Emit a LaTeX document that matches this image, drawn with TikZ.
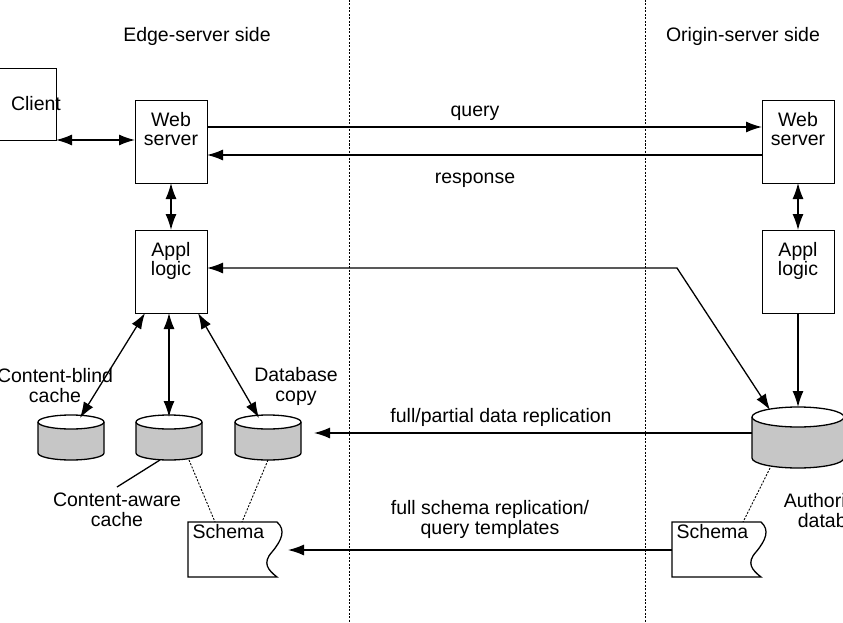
\documentclass[tikz,border=0pt]{standalone}
\usepackage{fontspec}
\setmainfont{Liberation Sans}
\usetikzlibrary{arrows.meta}
\begin{document}
\begin{tikzpicture}[x=1pt,y=-1pt,line width=1.3pt,
  box/.style={draw,minimum width=72pt,minimum height=83pt,align=center,anchor=north west},
  lbl/.style={align=center},
  arr/.style={-{Latex[length=16pt,width=11pt]}},
  darr/.style={{Latex[length=16pt,width=11pt]}-{Latex[length=16pt,width=11pt]}},
  dotl/.style={line width=0.9pt,dash pattern=on 2pt off 1.5pt},
  every node/.style={font=\fontsize{19.5}{22}\selectfont}]
\useasboundingbox (0,0) rectangle (843,623);
\draw[dotl] (349,0) -- (349,623);
\draw[dotl] (645,0) -- (645,623);
\node[lbl] (es) at (197,36) {Edge-server side};
\node[lbl] (os) at (743,36) {Origin-server side};
% boxes
\node[box,minimum width=58pt,minimum height=72pt] (cl) at (-2,68) {};
\node[lbl] (clt) at (36,104) {Client};
\node[box] (ws1) at (135,100) {};
\node[lbl,anchor=north] at (171,108) {Web\\[-3pt]server};
\node[box] (al1) at (135,230) {};
\node[lbl,anchor=north] at (171,238) {Appl\\[-3pt]logic};
\node[box] (ws2) at (762,100) {};
\node[lbl,anchor=north] at (798,108) {Web\\[-3pt]server};
\node[box] (al2) at (762,230) {};
\node[lbl,anchor=north] at (798,238) {Appl\\[-3pt]logic};
% cylinders
\foreach \n/\cx in {c1/71,c2/169,c3/268}{
  \fill[gray!45] (\cx-33,422) -- (\cx-33,453) arc[start angle=180,end angle=360,x radius=33,y radius=-7] -- (\cx+33,422) -- cycle;
  \draw (\cx-33,422) -- (\cx-33,453) arc[start angle=180,end angle=360,x radius=33,y radius=-7] -- (\cx+33,422);
  \draw[fill=white] (\cx,422) ellipse[x radius=33,y radius=7];
  \coordinate (\n t) at (\cx,417);
  \coordinate (\n b) at (\cx,460);
}
% authoritative db
\fill[gray!45] (752,417) -- (752,458) arc[start angle=180,end angle=360,x radius=46,y radius=-10] -- (844,417) -- cycle;
\draw (752,417) -- (752,458) arc[start angle=180,end angle=360,x radius=46,y radius=-10] -- (844,417);
\draw[fill=white] (798,417) ellipse[x radius=46,y radius=10];
\coordinate (adb) at (798,407);
% schemas
\draw[fill=white] (188,522) -- (277,522) .. controls (286,530) and (282,540) .. (272,552) .. controls (262,563) and (268,570) .. (277,577) -- (188,577) -- cycle;
\node[anchor=north west,inner sep=1pt] (sc1) at (191,523) {Schema};
\draw[fill=white] (672,522) -- (761,522) .. controls (770,530) and (766,540) .. (756,552) .. controls (746,563) and (752,570) .. (761,577) -- (672,577) -- cycle;
\node[anchor=north west,inner sep=1pt] (sc2) at (675,523) {Schema};
\coordinate (s1a) at (215,522); \coordinate (s1b) at (242,522); \coordinate (s2a) at (743,522);
% labels
\node[lbl] at (55,386) {Content-blind\\[-2pt]cache};
\node[lbl] at (296,386) {Database\\[-2pt]copy};
\node[lbl] (caw) at (117,510) {Content-aware\\[-2pt]cache};
\node[lbl] at (838,511) {Authoritative\\[-2pt]database};
\draw (160,460) -- (117,487);
\draw[dotl] (189,460) -- (s1a);
\draw[dotl] (268,460) -- (s1b);
\draw[dotl] (770,468) -- (s2a);
% connectors
\draw[darr] (56,140) -- (135,140);
\draw[arr] (207,127) -- (762,127);
\node (ql) at (475,113) {query};
\draw[arr] (762,155) -- (207,155);
\node (rl) at (475,180) {response};
\draw[darr] (171,183) -- (171,230);
\draw[darr] (798,183) -- (798,230);
\draw[darr] (207,268) -- (677,268) -- (770,410);
\draw[arr] (798,313) -- (adb);
\draw[darr] (145,313) -- (80,418);
\draw[darr] (169,313) -- (c2t);
\draw[darr] (198,313) -- (259,418);
\draw[arr] (752,433) -- (314,433);
\node (fl) at (501,417) {full/partial data replication};
\draw[arr] (672,550) -- (288,550);
\node[align=center] (sl) at (490,519) {full schema replication/\\[-2pt]query templates};
\end{tikzpicture}
\end{document}
